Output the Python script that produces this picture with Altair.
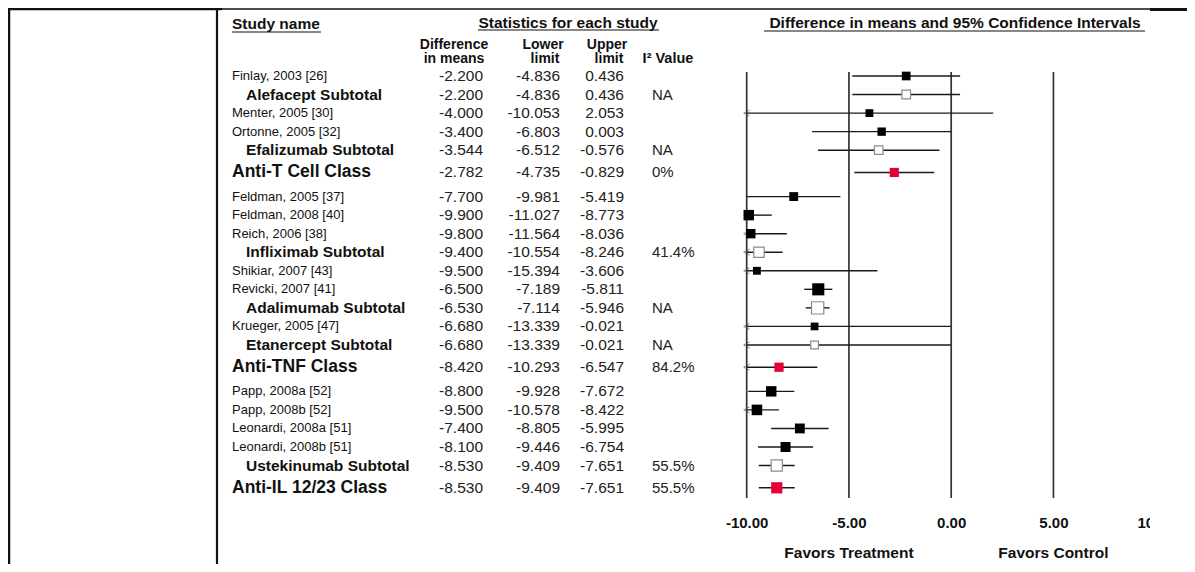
import altair as alt
import pandas as pd

# ---------------- data ----------------
names = ["Finlay, 2003 [26]", "Alefacept Subtotal", "Menter, 2005 [30]", "Ortonne, 2005 [32]",
         "Efalizumab Subtotal", "Anti-T Cell Class", "Feldman, 2005 [37]", "Feldman, 2008 [40]",
         "Reich, 2006 [38]", "Infliximab Subtotal", "Shikiar, 2007 [43]", "Revicki, 2007 [41]",
         "Adalimumab Subtotal", "Krueger, 2005 [47]", "Etanercept Subtotal", "Anti-TNF Class",
         "Papp, 2008a [52]", "Papp, 2008b [52]", "Leonardi, 2008a [51]", "Leonardi, 2008b [51]",
         "Ustekinumab Subtotal", "Anti-IL 12/23 Class"]
kinds = ["study", "subtotal", "study", "study", "subtotal", "class", "study", "study", "study",
         "subtotal", "study", "study", "subtotal", "study", "subtotal", "class", "study", "study",
         "study", "study", "subtotal", "class"]
diff = [-2.200, -2.200, -4.000, -3.400, -3.544, -2.782, -7.700, -9.900, -9.800, -9.400, -9.500,
        -6.500, -6.530, -6.680, -6.680, -8.420, -8.800, -9.500, -7.400, -8.100, -8.530, -8.530]
lower = [-4.836, -4.836, -10.053, -6.803, -6.512, -4.735, -9.981, -11.027, -11.564, -10.554, -15.394,
         -7.189, -7.114, -13.339, -13.339, -10.293, -9.928, -10.578, -8.805, -9.446, -9.409, -9.409]
upper = [0.436, 0.436, 2.053, 0.003, -0.576, -0.829, -5.419, -8.773, -8.036, -8.246, -3.606,
         -5.811, -5.946, -0.021, -0.021, -6.547, -7.672, -8.422, -5.995, -6.754, -7.651, -7.651]
i2 = ["", "NA", "", "", "NA", "0%", "", "", "", "41.4%", "", "", "NA", "", "NA", "84.2%",
      "", "", "", "", "55.5%", "55.5%"]
tick_values = [-10, -5, 0, 5, 10]
grid_values = [-10, -5, 0, 5]
favors = ["Favors Treatment", "Favors Control"]
favors_side = [-5, 5]

# ---------------- layout ----------------
W, H = 1179, 556
FONT = "Liberation Sans"
MINUS = "\u2212"

df = pd.DataFrame(dict(name=names, kind=kinds, diff=diff, lower=lower, upper=upper, i2=i2))
is_cls = (df["kind"] == "class").astype(int)
le = is_cls.cumsum()
lt = le - is_cls
df["pos"] = df.index + 0.2 * le + 0.3 * lt
df["lo_clip"] = df["lower"].clip(lower=-10)
df["prec"] = 1.0 / (df["upper"] - df["lower"])

ROW_PX = 18.55
y_top = -68 / ROW_PX
yscale = alt.Scale(domain=[y_top, y_top + H / ROW_PX], reverse=True, zero=False, nice=False)
PX_UNIT = 20.449
x_lo = -10 - 738.7 / PX_UNIT
xscale = alt.Scale(domain=[x_lo, x_lo + W / PX_UNIT], zero=False, nice=False)
xaxis = alt.Axis(values=tick_values, format=".2f", grid=False, domain=False, ticks=False,
                 labelExpr=f"replace(datum.label, '{MINUS}', '-')",
                 labelFont=FONT, labelFontSize=15, labelFontWeight="bold", labelColor="#111",
                 labelFlush=False, title="", offset=-66, labelPadding=17)

Y = alt.Y("pos:Q", scale=yscale, axis=None)


def X(field):
    return alt.X(field, scale=xscale, axis=xaxis)


def one(text):
    return alt.Chart(pd.DataFrame({"t": [text]}))


def header(text, x, y, align, size=15.5, weight="bold"):
    return one(text).mark_text(align=align, baseline="alphabetic", font=FONT, fontSize=size,
                               fontWeight=weight, color="#111").encode(
        text="t:N", x=alt.value(x), y=alt.value(y))


def hline(x1, x2, y, w=1.2, color="#111"):
    return one("l").mark_rule(color=color, strokeWidth=w).encode(
        x=alt.value(x1), x2=alt.value(x2), y=alt.value(y))


def vline(x, y1, y2, w=2, color="#111"):
    return one("l").mark_rule(color=color, strokeWidth=w).encode(
        x=alt.value(x), y=alt.value(y1), y2=alt.value(y2))


base = alt.Chart(df)

grid = alt.Chart(pd.DataFrame({"g": grid_values})).mark_rule(color="#333", strokeWidth=1.7).encode(
    x=X("g:Q"), y=alt.value(64), y2=alt.value(490))

ci = base.mark_rule(color="#1a1a1a", strokeWidth=1.4).encode(x=X("lo_clip:Q"), x2="upper:Q", y=Y)

arrows = base.transform_filter("datum.lower < -10").mark_point(
    shape="M 1 -1 L -1 0 L 1 1", filled=False, size=36, color="#555", strokeWidth=1).encode(
    x=X("lo_clip:Q"), y=Y)

SIZE = alt.Size("prec:Q", scale=alt.Scale(domain=[0, 0.75], range=[50, 150], clamp=True), legend=None)

sq_study = base.transform_filter("datum.kind == 'study'").mark_square(
    color="#000", opacity=1).encode(x=X("diff:Q"), y=Y, size=SIZE)
sq_sub = base.transform_filter("datum.kind == 'subtotal'").mark_square(
    fill="white", stroke="#8a8a8a", strokeWidth=1.2, opacity=1).encode(x=X("diff:Q"), y=Y, size=SIZE)
sq_cls = base.transform_filter("datum.kind == 'class'").mark_square(
    color="#E5003A", opacity=1).encode(x=X("diff:Q"), y=Y, size=SIZE)

names_study = base.transform_filter("datum.kind == 'study'").mark_text(
    align="left", baseline="middle", font=FONT, fontSize=13, color="#111").encode(
    x=alt.value(224), y=Y, text="name:N")
names_sub = base.transform_filter("datum.kind == 'subtotal'").mark_text(
    align="left", baseline="middle", font=FONT, fontSize=15.5, fontWeight="bold", color="#111").encode(
    x=alt.value(238), y=Y, text="name:N")
names_cls = base.transform_filter("datum.kind == 'class'").mark_text(
    align="left", baseline="middle", font=FONT, fontSize=17.5, fontWeight="bold", color="#111").encode(
    x=alt.value(224), y=Y, text="name:N")

num_layers = []
for col, xr in [("diff", 475), ("lower", 552), ("upper", 616)]:
    num_layers.append(base.transform_calculate(
        txt=f"replace(format(datum.{col}, '.3f'), '{MINUS}', '-')"
    ).mark_text(align="right", baseline="middle", font=FONT, fontSize=15.5, color="#222").encode(
        x=alt.value(xr), y=Y, text="txt:N"))
i2_layer = base.mark_text(align="left", baseline="middle", font=FONT, fontSize=15, color="#222").encode(
    x=alt.value(644), y=Y, text="i2:N")

favors_layer = alt.Chart(pd.DataFrame({"label": favors, "side": favors_side})).mark_text(
    baseline="middle", font=FONT, fontSize=15.5, fontWeight="bold", color="#111").encode(
    x=X("side:Q"), y=alt.value(545), text="label:N")

headers = [
    header("Study name", 224, 21, "left"),
    hline(224, 313, 24),
    header("Statistics for each study", 560, 20, "center"),
    hline(470, 651, 22),
    header("Difference in means and 95% Confidence Intervals", 947, 20, "center"),
    hline(756, 1137, 23),
    header("Difference", 446, 41, "center", 14),
    header("in means", 446, 55, "center", 14),
    header("Lower", 535, 41, "center", 14),
    header("limit", 537, 55, "center", 14),
    header("Upper", 599, 41, "center", 14),
    header("limit", 601, 55, "center", 14),
    header("I² Value", 660, 55, "center", 14.5),
]

cover = one("c").mark_rect(color="white").encode(
    x=alt.value(1142), x2=alt.value(1179), y=alt.value(4), y2=alt.value(556))

frame = [
    hline(0, 1179, 1, 1.3),
    hline(0, 214, 1, 2.5),
    hline(1142, 1179, 1.5, 3),
    vline(1, 0, 556, 2.5),
    vline(209, 0, 556, 2.2),
]

chart = alt.layer(
    grid, ci, arrows, sq_study, sq_sub, sq_cls,
    names_study, names_sub, names_cls, *num_layers, i2_layer,
    favors_layer, *headers, cover, *frame
).properties(
    width=W, height=H, padding=0, autosize=alt.AutoSizeParams(type="none")
).configure_view(strokeWidth=0)

chart.save("out.html", embed_options={"renderer": "svg", "actions": False})
